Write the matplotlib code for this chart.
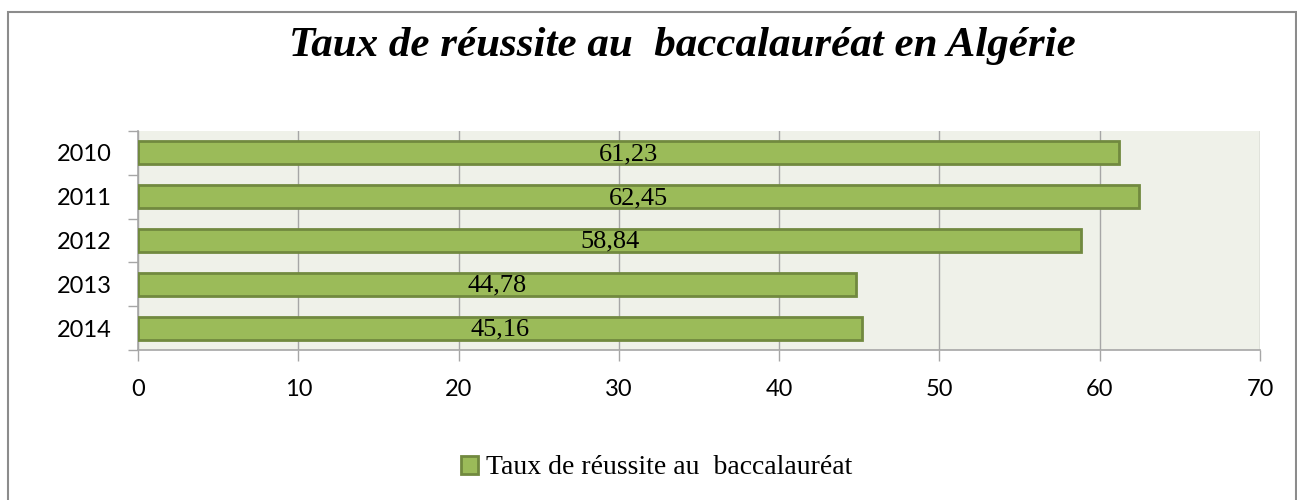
import matplotlib.pyplot as plt
from matplotlib.patches import Rectangle
import numpy as np

# data
years = ["2010", "2011", "2012", "2013", "2014"]
rates = [61.23, 62.45, 58.84, 44.78, 45.16]
rate_labels = ["61,23", "62,45", "58,84", "44,78", "45,16"]
x_ticks = [0, 10, 20, 30, 40, 50, 60, 70]

bar_color = "#9bbb59"
edge_color = "#71893f"
plot_bg = "#eff1e9"
grid_color = "#a6a6a6"

fig = plt.figure(figsize=(12.97, 5), dpi=100)
ax = fig.add_axes([138 / 1297, 1 - 350 / 500, (1260 - 138) / 1297, (350 - 131) / 500])

# outer chart frame
fig.patches.append(Rectangle((8 / 1297, -0.01), (1296 - 8) / 1297, 1 - 12 / 500 + 0.01,
                             transform=fig.transFigure, fill=False,
                             edgecolor="#8c8c8c", linewidth=1.5))

pos = np.arange(len(years))
bars = ax.barh(pos, rates, height=0.526, color=bar_color, edgecolor=edge_color,
               linewidth=2, label="Taux de réussite au  baccalauréat", zorder=3)

for p, v, lab in zip(pos, rates, rate_labels):
    ax.text(v / 2, p + 0.03, lab, ha="center", va="center", fontsize=19,
            family="Liberation Serif", color="black", zorder=4)

ax.set_facecolor(plot_bg)
ax.set_xlim(0, 70)
ax.set_ylim(len(years) - 0.5, -0.5)

ax.set_xticks(x_ticks)
ax.set_xticklabels([str(t) for t in x_ticks], family="Lato", fontsize=17)
ax.tick_params(axis="x", direction="out", length=8, width=1, color=grid_color, pad=13)
ax.grid(axis="x", color=grid_color, linewidth=1, zorder=0)

# boundaries as tick marks, year labels at centers
ax.set_yticks(np.arange(len(years) + 1) - 0.5)
ax.set_yticklabels([])
ax.set_yticks(pos, minor=True)
ax.set_yticklabels(years, minor=True, family="Lato", fontsize=17)
ax.tick_params(axis="y", which="major", direction="out", length=7, width=1, color=grid_color)
ax.tick_params(axis="y", which="minor", length=0, pad=19)

for side in ["top", "right"]:
    ax.spines[side].set_visible(False)
ax.spines["left"].set_color(grid_color)
ax.spines["bottom"].set_color(grid_color)
ax.spines["left"].set_linewidth(1.2)
ax.spines["bottom"].set_linewidth(1.2)

fig.text(682 / 1297, 1 - 46 / 500, "Taux de réussite au  baccalauréat en Algérie",
         ha="center", va="center", fontsize=31, style="italic", weight="bold",
         family="Liberation Serif")

fig.legend(handles=[bars], loc="center", bbox_to_anchor=(657 / 1297, 1 - 468 / 500),
           frameon=False, prop={"family": "Liberation Serif", "size": 20},
           handlelength=0.6, handleheight=0.6, handletextpad=0.3)

fig.savefig("out.png", dpi=100)
